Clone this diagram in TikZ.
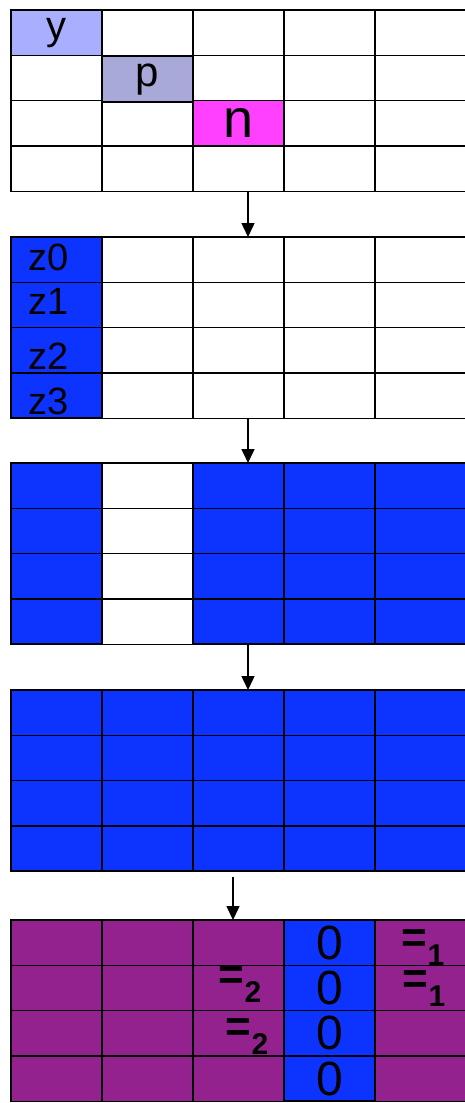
\documentclass[tikz,border=0pt]{standalone}
\usepackage{fontspec}
\setmainfont{Liberation Sans}
\usetikzlibrary{arrows.meta}
\definecolor{cellylight}{HTML}{A9AEFF}
\definecolor{cellpgray}{HTML}{A9A9D9}
\definecolor{cellmagenta}{HTML}{FF40FF}
\definecolor{cellblue}{HTML}{0D33FF}
\definecolor{cellpurple}{HTML}{93228F}
\tikzset{%
  gridcell/.style={%
    draw=black,
    fill=white,
    line width=1.3pt,
    minimum width=91pt,
    minimum height=45.3pt,
    inner sep=0pt,
    outer sep=0pt
  },
  bluecell/.style={gridcell,fill=cellblue,line width=1.6pt},
  purplecell/.style={gridcell,fill=cellpurple},
  zlabel/.style={font=\fontsize{38}{38}\selectfont},
  zerolabel/.style={font=\fontsize{48}{48}\selectfont},
  eqlabel/.style={font=\fontsize{44}{44}\selectfont\bfseries,inner sep=0pt},
  gridarrow/.style={-{Triangle[length=14pt,width=13pt]},line width=1.5pt}
}
\newcommand{\eqsub}[1]{=\raisebox{-13pt}{\fontsize{30}{30}\selectfont #1}}

\begin{document}
\begin{tikzpicture}[x=1pt,y=1pt]
  \useasboundingbox (0,0) rectangle (464,-1103);

  % grid a: starting positions
  \foreach \r in {0,...,3}
    \foreach \c in {0,...,4}
      \node[gridcell] (a\r\c) at ({56.5+91*\c},{-32.65-45.3*\r}) {};
  \node[gridcell,fill=cellylight,font=\fontsize{40}{40}\selectfont] (ycell) at (a00) {y};
  \node[gridcell,fill=cellpgray,font=\fontsize{42}{42}\selectfont] (pcell) at ([yshift=-1.5pt]a11) {p};
  \node[gridcell,fill=cellmagenta,font=\fontsize{54}{54}\selectfont] (ncell) at (a22) {n};

  % grid b: first column z0..z3
  \foreach \r in {0,...,3} {
    \foreach \c in {1,...,4}
      \node[gridcell] (b\r\c) at ({56.5+91*\c},{-259.65-45.3*\r}) {};
    \node[bluecell] (b\r0) at (56.5,{-259.65-45.3*\r}) {};
  }
  \node[zlabel,anchor=base] (z0) at (49,-270) {z0};
  \node[zlabel,anchor=base] (z1) at (49,-314) {z1};
  \node[zlabel,anchor=base] (z2) at (49,-369) {z2};
  \node[zlabel,anchor=base] (z3) at (49,-414) {z3};

  % grid c: all but second column filled
  \foreach \r in {0,...,3}
    \foreach \c/\s in {0/bluecell,1/gridcell,2/bluecell,3/bluecell,4/bluecell}
      \node[\s] (c\r\c) at ({56.5+91*\c},{-485.65-45.3*\r}) {};

  % grid d: everything filled
  \foreach \r in {0,...,3}
    \foreach \c in {0,...,4}
      \node[bluecell] (d\r\c) at ({56.5+91*\c},{-712.65-45.3*\r}) {};

  % grid e: result
  \foreach \r in {0,...,3} {
    \foreach \c in {0,1,2,4}
      \node[purplecell] (e\r\c) at ({56.5+91*\c},{-942.65-45.3*\r}) {};
    \node[bluecell,zerolabel] (e\r3) at (329.5,{-942.65-45.3*\r}) {0};
  }
  \node[eqlabel] (eqa) at (423,-948) {\eqsub{1}};
  \node[eqlabel] (eqb) at (424,-989) {\eqsub{1}};
  \node[eqlabel] (eqc) at (240,-985) {\eqsub{2}};
  \node[eqlabel] (eqd) at (247,-1037) {\eqsub{2}};

  \draw[gridarrow] ([xshift=9.5pt]a32.south) -- ([xshift=9.5pt]b02.north);
  \draw[gridarrow] ([xshift=9.5pt]b32.south) -- ([xshift=9.5pt]c02.north);
  \draw[gridarrow] ([xshift=9.5pt]c32.south) -- ([xshift=9.5pt]d02.north);
  \draw[gridarrow,shorten <=6pt] ([xshift=-5.5pt]d32.south) -- ([xshift=-5.5pt]e02.north);
\end{tikzpicture}
\end{document}
